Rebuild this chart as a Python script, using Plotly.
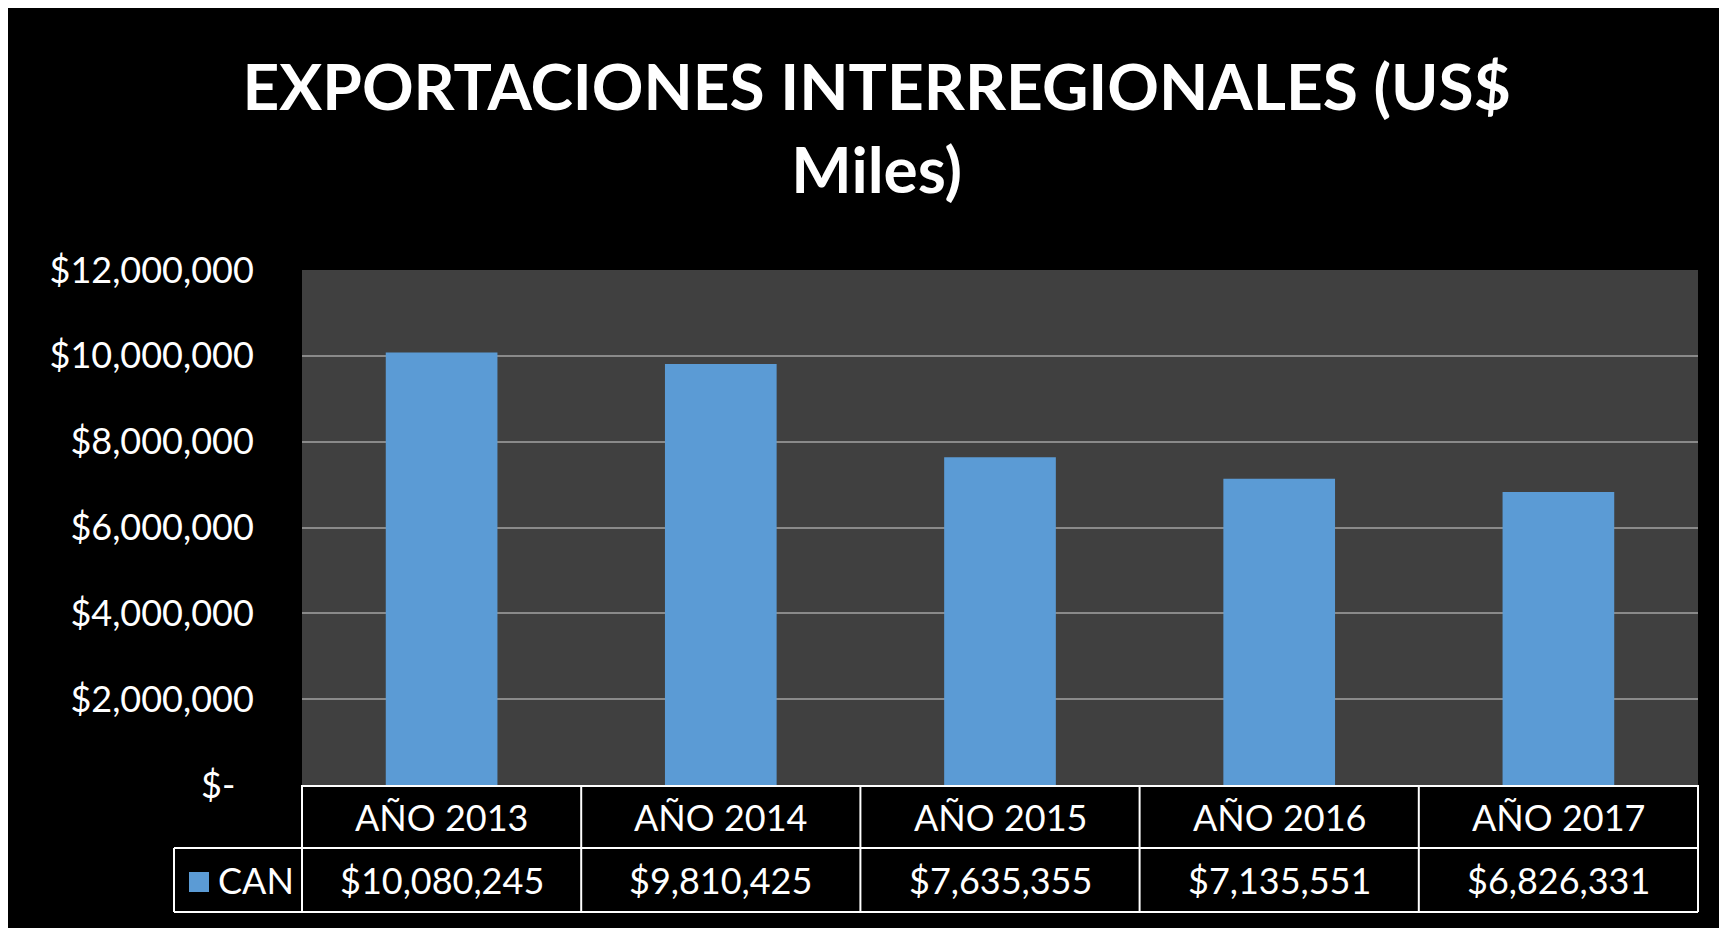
import plotly.graph_objects as go

# ---- data ----
categories = ["AÑO 2013", "AÑO 2014", "AÑO 2015", "AÑO 2016", "AÑO 2017"]
values = [10080245, 9810425, 7635355, 7135551, 6826331]
series_name = "CAN"
y_tickvals = [0, 2000000, 4000000, 6000000, 8000000, 10000000, 12000000]
title_text = "EXPORTACIONES INTERREGIONALES (US$<br>Miles)"


def money(v):
    return "$-\u00a0\u00a0" if v == 0 else "${:,.0f}".format(v)


W, H = 1727, 928
OFF = 8  # page body margin
# plot area in screen pixels
SL, SR, ST, SB = 302, 1698, 270, 785
ML, MR, MT, MB = SL - OFF, W - (SR - OFF), ST - OFF, H - (SB - OFF)
PW, PH = SR - SL, SB - ST


def px(xs):
    return (xs - SL) / PW


def py(ys):
    return (SB - ys) / PH


FONT = "Lato"
WHITE = "#ffffff"
BAR = "#5b9bd5"

fig = go.Figure()
fig.add_trace(go.Bar(
    x=categories, y=values, name=series_name,
    marker=dict(color=BAR, line=dict(width=0)),
    showlegend=False,
))

row1_bot = 848
row2_bot = 912
leg_left = 174
shapes = []
line = dict(color=WHITE, width=2)
shapes.append(dict(type="line", xref="paper", yref="paper", x0=px(leg_left), x1=1,
                   y0=py(row1_bot), y1=py(row1_bot), line=line))
shapes.append(dict(type="line", xref="paper", yref="paper", x0=px(leg_left), x1=1,
                   y0=py(row2_bot), y1=py(row2_bot), line=line))
n = len(categories)
for i in range(n + 1):
    shapes.append(dict(type="line", xref="paper", yref="paper", x0=i / n, x1=i / n,
                       y0=0, y1=py(row2_bot), line=line))
shapes.append(dict(type="line", xref="paper", yref="paper", x0=px(leg_left), x1=px(leg_left),
                   y0=py(row1_bot), y1=py(row2_bot), line=line))
shapes.append(dict(type="rect", xref="paper", yref="paper", x0=px(189), x1=px(209),
                   y0=py(872), y1=py(892), fillcolor=BAR, line=dict(width=0)))

annotations = []
for c in categories:
    annotations.append(dict(x=c, xref="x", y=py(817), yref="paper", text=c,
                            showarrow=False, xanchor="center", yanchor="middle",
                            font=dict(family=FONT, size=36, color=WHITE)))
for c, v in zip(categories, values):
    annotations.append(dict(x=c, xref="x", y=py(880), yref="paper", text=money(v),
                            showarrow=False, xanchor="center", yanchor="middle",
                            font=dict(family=FONT, size=36, color=WHITE)))
annotations.append(dict(x=px(216), xref="paper", y=py(880), yref="paper", text=series_name,
                        showarrow=False, xanchor="left", yanchor="middle",
                        font=dict(family=FONT, size=36, color=WHITE)))

fig.update_layout(
    width=W, height=H,
    margin=dict(l=ML, r=MR, t=MT, b=MB, autoexpand=False),
    paper_bgcolor="#000000",
    plot_bgcolor="#404040",
    bargap=0.6,
    title=dict(text=title_text, x=0.503, xref="container", xanchor="center",
               y=1 - 102 / H, yref="container", yanchor="middle",
               font=dict(family=FONT, size=64, color=WHITE, weight="bold")),
    xaxis=dict(showticklabels=False, showgrid=False, range=[-0.5, n - 0.5],
               showline=True, linecolor=WHITE, linewidth=2, ticks="", zeroline=False),
    yaxis=dict(range=[0, 12000000], tickvals=y_tickvals,
               ticktext=[money(v) for v in y_tickvals],
               showgrid=True, gridcolor="#8a8a8a", gridwidth=1.5, zeroline=False,
               ticks="outside", ticklen=40, tickcolor="rgba(0,0,0,0)",
               tickfont=dict(family=FONT, size=36, color=WHITE)),
    shapes=shapes,
    annotations=annotations,
)

fig.write_html("out.html")
